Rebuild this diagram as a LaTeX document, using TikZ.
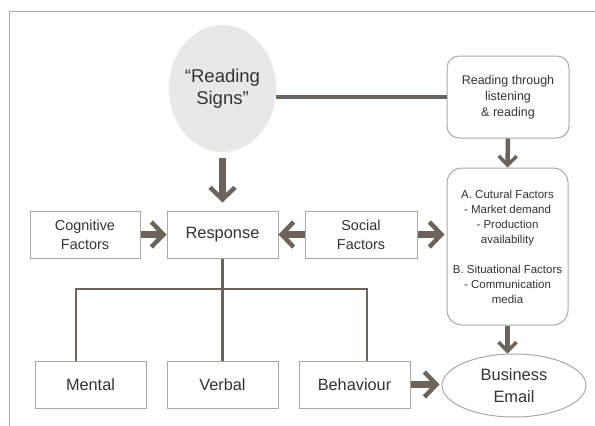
\documentclass[tikz,border=0pt]{standalone}
\usepackage{fontspec}
\setmainfont{Liberation Sans}
\usetikzlibrary{shapes.geometric,arrows.meta}
\definecolor{linecol}{HTML}{6B635C}
\definecolor{boxcol}{HTML}{A8A8A8}
\definecolor{txtcol}{HTML}{333333}
\definecolor{signfill}{HTML}{E8E8E8}
\begin{document}
\begin{tikzpicture}[x=1pt,y=-1pt,
    every node/.style={text=txtcol, align=center, inner sep=0pt},
    plainbox/.style={rectangle, draw=boxcol, line width=1pt, minimum width=111pt, minimum height=47pt},
    roundbox/.style={rectangle, rounded corners=12pt, draw=boxcol, line width=1pt},
    bigarrow/.style={draw=linecol, line width=6.5pt, -{Straight Barb[length=12pt,width=25pt,line width=4.5pt]}},
    smallarrow/.style={draw=linecol, line width=4.5pt, -{Straight Barb[length=9pt,width=18pt,line width=3.5pt]}},
    tree/.style={draw=linecol, line width=2.2pt}]
    \useasboundingbox (0,0) rectangle (595,426);
    \draw[boxcol, line width=1pt] (9,426) -- (9,11) -- (595,11);

    \node[ellipse, fill=signfill, minimum width=107pt, minimum height=127pt,
        font=\fontsize{18.5}{22}\selectfont] (sign) at (222.5,88.5) {``Reading\\ Signs''};
    \node[roundbox, minimum width=122pt, minimum height=82pt,
        font=\fontsize{12.5}{16}\selectfont] (through) at (508,97) {Reading through\\ listening\\ \& reading};
    \node[roundbox, rounded corners=15pt, minimum width=121pt, minimum height=157pt,
        font=\fontsize{11.5}{15}\selectfont] (cult) at (507.5,246.5)
        {A. Cutural Factors\\ - Market demand\\ - Production\\ availability\\[15pt]
         B. Situational Factors\\ - Communication\\ media};

    \node[plainbox, minimum width=110pt, font=\fontsize{14.4}{19}\selectfont] (cog) at (85,234.5) {Cognitive\\ Factors};
    \node[plainbox, font=\fontsize{16.4}{20}\selectfont] (resp) at (222.5,234.5) {Response};
    \node[plainbox, minimum width=112pt, font=\fontsize{14.4}{19}\selectfont] (soc) at (361,234.5) {Social\\ Factors};

    \node[plainbox, font=\fontsize{16.3}{20}\selectfont] (ment) at (90.5,384.5) {Mental};
    \node[plainbox, font=\fontsize{16.3}{20}\selectfont] (verb) at (222.5,384.5) {Verbal};
    \node[plainbox, font=\fontsize{16.3}{20}\selectfont] (behav) at (354.5,384.5) {Behaviour};
    \node[ellipse, draw=boxcol, line width=1pt, minimum width=144pt, minimum height=63pt,
        font=\fontsize{16.4}{22}\selectfont] (mail) at (514,385.5) {Business\\ Email};

    % lines
    \draw[linecol, line width=4pt] (through.west -| sign.east) -- (through.west);
    \coordinate (bus) at (222.5,289);
    \draw[tree] (resp.south) -- (verb.north);
    \draw[tree] ([xshift=-14.5pt]ment.north) |- (bus) -| ([xshift=12.5pt]behav.north);

    % arrows
    \draw[bigarrow, shorten <=6pt, shorten >=8pt] (sign.south) -- (resp.north);
    \draw[bigarrow] (cog.east) -- (resp.west);
    \draw[bigarrow] (soc.west) -- (resp.east);
    \draw[bigarrow, shorten >=2pt] (soc.east) -- (soc.east -| cult.west);
    \draw[smallarrow] (through.south) -- (cult.north);
    \draw[smallarrow] (cult.south) -- (cult.south |- mail.north);
    \draw[bigarrow, shorten >=2pt] (behav.east) -- (behav.east -| mail.west);
\end{tikzpicture}
\end{document}
